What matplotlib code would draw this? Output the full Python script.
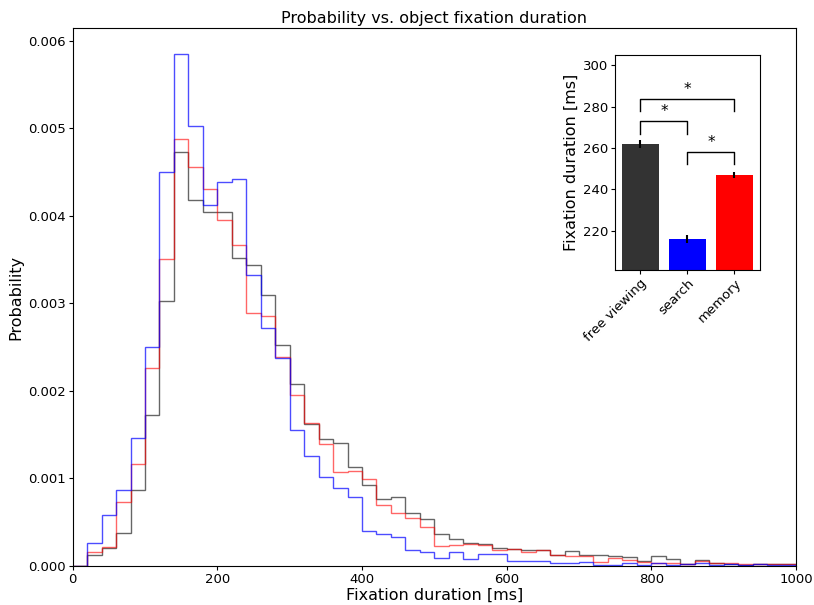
import numpy as np
import matplotlib
matplotlib.use('Agg')
import matplotlib.pyplot as plt

# histogramas (probabilidad por bin de 20 ms)
bin_edges = np.arange(0, 1001, 20)

prob_free = [0, 0.00012, 0.000203, 0.000378, 0.000873, 0.00172, 0.00302, 0.00473, 0.00418, 0.00404,
             0.00404, 0.00352, 0.00344, 0.00309, 0.00252, 0.00208, 0.00162, 0.00145, 0.0014, 0.00113,
             0.00093, 0.00076, 0.00079, 0.0006, 0.00054, 0.00037, 0.00031, 0.00026, 0.00025, 0.0002,
             0.00019, 0.00018, 0.00018, 0.00012, 0.00017, 0.000124, 0.000124, 0.00011, 0.0001, 0.000055,
             0.00011, 0.00008, 0.000025, 0.000067, 0.000036, 0.000025, 0.000013, 0.000025, 0.000017, 0.000017]

prob_search = [0, 0.000265, 0.000587, 0.000873, 0.00146, 0.0025, 0.0045, 0.00585, 0.00502, 0.00412,
               0.00438, 0.00442, 0.00332, 0.00272, 0.00237, 0.00155, 0.00126, 0.00102, 0.00089, 0.00079,
               0.000405, 0.00036, 0.00033, 0.00018, 0.00016, 0.000093, 0.00016, 0.000074, 0.00014, 0.00014,
               0.000055, 0.000055, 0.000055, 0.000032, 0.000032, 0.00005, 0.00001, 0.00001, 0.000032, 0.00001,
               0.000036, 0.00001, 0.00002, 0.000036, 0.000013, 0.000025, 0.00001, 0.000025, 0.000013, 0.00001]

prob_memory = [0, 0.000157, 0.000219, 0.000732, 0.00117, 0.00226, 0.0035, 0.00487, 0.00456, 0.00431,
               0.00395, 0.00366, 0.00289, 0.00285, 0.00239, 0.00195, 0.00163, 0.00139, 0.00107, 0.00108,
               0.00099, 0.0007, 0.00061, 0.00055, 0.00045, 0.000226, 0.00024, 0.00025, 0.000245, 0.00018,
               0.00019, 0.00016, 0.000177, 0.000124, 0.000112, 0.000112, 0.000044, 0.000093, 0.000067, 0.000044,
               0.00003, 0.00003, 0.000017, 0.000055, 0.000036, 0.00003, 0.000017, 0.000025, 0.000025, 0.000017]

# duraciones medias (inset)
tasks = ['free viewing', 'search', 'memory']
mean_duration = [262, 216, 247]
sem_duration = [1.8, 1.8, 1.5]
bar_colors = ['#333333', 'blue', 'red']

fig = plt.figure(figsize=(8.14, 6.05), dpi=100)
ax = fig.add_axes([0.0893, 0.0645, 0.8886, 0.8888])

ax.stairs(prob_free, bin_edges, color='black', alpha=0.6, linewidth=1)
ax.stairs(prob_memory, bin_edges, color='red', alpha=0.6, linewidth=1)
ax.stairs(prob_search, bin_edges, color='blue', alpha=0.7, linewidth=1)

ax.set_xlim(0, 1000)
ax.set_ylim(0, 0.00614)
ax.set_yticks(np.arange(0, 0.0061, 0.001))
ax.tick_params(labelsize=9.5, length=3, pad=2)
ax.set_xlabel('Fixation duration [ms]', fontsize=11.5, labelpad=1)
ax.set_ylabel('Probability', fontsize=11.5, labelpad=3)
ax.set_title('Probability vs. object fixation duration', fontsize=11.5, pad=4)

# inset con barras
ins = fig.add_axes([0.7555, 0.5537, 0.178, 0.3554])
x = np.arange(len(tasks))
ins.bar(x, mean_duration, width=0.8, color=bar_colors, yerr=sem_duration, ecolor='black')
ins.set_ylim(201, 305)
ins.set_yticks([220, 240, 260, 280, 300])
ins.set_xticks(x)
ins.set_xticklabels(tasks, rotation=45, ha='right', rotation_mode='anchor')
ins.tick_params(labelsize=9.5, length=3, pad=2)
ins.set_ylabel('Fixation duration [ms]', fontsize=11.5, labelpad=3)

# marcas de significancia
def bracket(a, b, y_low, y_top):
    ins.plot([a, a, b, b], [y_low, y_top, y_top, y_low], color='black', linewidth=1)
    ins.text((a + b) / 2, y_top + 1, '*', ha='center', va='bottom', fontsize=11)

bracket(0, 1, 267, 273)
bracket(0, 2, 278, 283.5)
bracket(1, 2, 252.5, 258)

fig.savefig('out.png', dpi=100)
